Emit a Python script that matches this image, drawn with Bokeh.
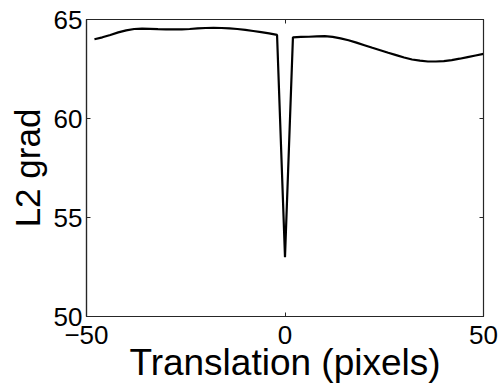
from bokeh.plotting import figure
from bokeh.models import LinearAxis, FixedTicker
from bokeh.embed import file_html
from bokeh.resources import INLINE

translation = [-48, -46, -44, -42, -40, -38, -36, -34, -32, -30, -28, -26, -24, -22, -20,
               -18, -16, -14, -12, -10, -8, -6, -4, -2, 0, 2, 4, 6, 8, 10, 12, 14, 16,
               18, 20, 22, 24, 26, 28, 30, 32, 34, 36, 38, 40, 42, 44, 46, 48, 50]
l2_grad = [64.00, 64.10, 64.22, 64.35, 64.45, 64.52, 64.54, 64.53, 64.51, 64.50, 64.50,
           64.50, 64.52, 64.55, 64.57, 64.58, 64.57, 64.55, 64.52, 64.48, 64.42, 64.36,
           64.30, 64.22, 53.00, 64.10, 64.12, 64.13, 64.15, 64.16, 64.12, 64.05, 63.95,
           63.83, 63.70, 63.57, 63.45, 63.32, 63.20, 63.08, 62.98, 62.92, 62.88, 62.88,
           62.90, 62.95, 63.02, 63.10, 63.18, 63.26]
x_ticks = [-50, 0, 50]
y_ticks = [50, 55, 60, 65]

FONT = "Liberation Sans"
AX = "#262626"

p = figure(width=500, height=385, x_range=(-50, 50), y_range=(50, 65),
           output_backend="svg", toolbar_location=None,
           min_border_left=86, min_border_right=17, min_border_top=19, min_border_bottom=60)
p.line(translation, l2_grad, line_color="black", line_width=2.2)

p.grid.visible = False
p.outline_line_color = AX
p.outline_line_width = 1.2
p.background_fill_color = "white"
p.border_fill_color = "white"

p.xaxis.ticker = FixedTicker(ticks=x_ticks)
p.yaxis.ticker = FixedTicker(ticks=y_ticks)
p.xaxis.axis_label = "Translation (pixels)"
p.yaxis.axis_label = "L2 grad"
for ax in (p.xaxis[0], p.yaxis[0]):
    ax.axis_line_color = AX
    ax.axis_line_width = 1.2
    ax.major_tick_in = 4
    ax.major_tick_out = 0
    ax.minor_tick_line_color = None
    ax.major_tick_line_color = AX
    ax.major_label_text_font = FONT
    ax.major_label_text_font_size = "26px"
    ax.major_label_text_color = "black"
    ax.axis_label_text_font = FONT
    ax.axis_label_text_font_style = "normal"
    ax.axis_label_text_color = "black"
p.xaxis.axis_label_text_font_size = "37px"
p.yaxis.axis_label_text_font_size = "35px"
p.xaxis.major_label_standoff = 9
p.yaxis.major_label_standoff = 4
p.xaxis.axis_label_standoff = -5
p.yaxis.axis_label_standoff = 4

right = LinearAxis(ticker=FixedTicker(ticks=y_ticks), major_label_text_font_size="0px",
                   major_label_standoff=0, major_tick_in=4, major_tick_out=0,
                   minor_tick_line_color=None, axis_line_color=AX, major_tick_line_color=AX)
top = LinearAxis(ticker=FixedTicker(ticks=x_ticks), major_label_text_font_size="0px",
                 major_label_standoff=0, major_tick_in=4, major_tick_out=0,
                 minor_tick_line_color=None, axis_line_color=AX, major_tick_line_color=AX)
p.add_layout(right, "right")
p.add_layout(top, "above")

open("out.html", "w").write(file_html(p, INLINE))
